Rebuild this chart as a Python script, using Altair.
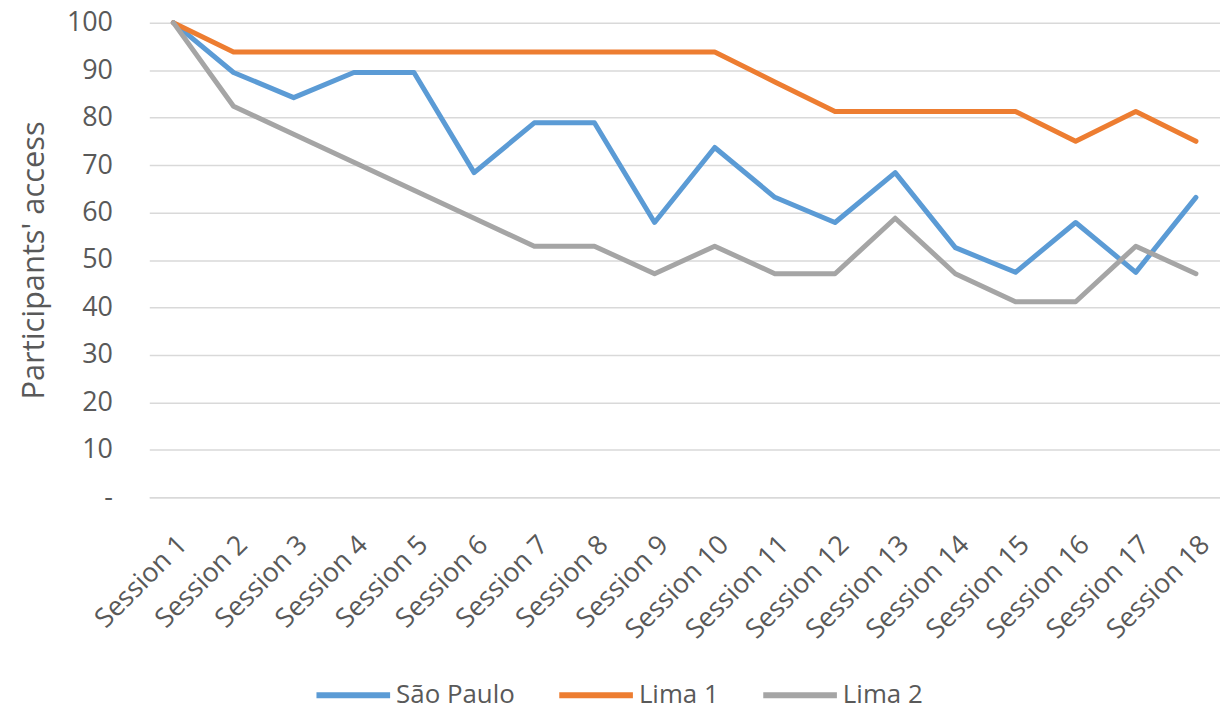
import altair as alt
import pandas as pd

sessions = [f"Session {i}" for i in range(1, 19)]
series_names = ["São Paulo", "Lima 1", "Lima 2"]
sao_paulo = [100, 89.5, 84.2, 89.5, 89.5, 68.4, 78.9, 78.9, 57.9, 73.7, 63.2, 57.9, 68.4, 52.6, 47.4, 57.9, 47.4, 63.2]
lima_1 = [100, 93.8, 93.8, 93.8, 93.8, 93.8, 93.8, 93.8, 93.8, 93.8, 87.5, 81.3, 81.3, 81.3, 81.3, 75.0, 81.3, 75.0]
lima_2 = [100, 82.4, 76.5, 70.6, 64.7, 58.8, 52.9, 52.9, 47.1, 52.9, 47.1, 47.1, 58.8, 47.1, 41.2, 41.2, 52.9, 47.1]
colors = ["#5B9BD5", "#ED7D31", "#A5A5A5"]
y_ticks = [0, 10, 20, 30, 40, 50, 60, 70, 80, 90, 100]

rows = []
for name, vals in zip(series_names, [sao_paulo, lima_1, lima_2]):
    for s, v in zip(sessions, vals):
        rows.append({"session": s, "value": v, "series": name})
df = pd.DataFrame(rows)

FONT = "Open Sans"
TXT = "#595959"
W, H = 1076, 477

chart = alt.Chart(df).mark_line(strokeWidth=5, strokeCap="round", strokeJoin="round").encode(
    x=alt.X("session:N", sort=sessions,
            scale=alt.Scale(type="point", padding=0.4),
            axis=alt.Axis(title=None, labelAngle=-45, labelAlign="right", labelBaseline="top",
                          labelPadding=34, ticks=False, tickSize=0, domainColor="#D9D9D9",
                          domainWidth=1.5, labelFont=FONT, labelFontSize=27, labelColor=TXT,
                          grid=False)),
    y=alt.Y("value:Q", scale=alt.Scale(domain=[0, 100], nice=False),
            axis=alt.Axis(title="Participants' access", values=y_ticks,
                          labelExpr="datum.value == 0 ? '-' : datum.label",
                          ticks=False, tickSize=0, domain=False, labelPadding=37,
                          labelFont=FONT, labelFontSize=27, labelColor=TXT,
                          gridColor="#D9D9D9", gridWidth=1.5,
                          titleFont=FONT, titleFontSize=31, titleFontWeight="normal",
                          titleColor=TXT, titleX=-115, titleY=H / 2, titleAngle=-90,
                          titleAlign="center", titleBaseline="middle")),
    color=alt.Color("series:N", sort=series_names,
                    scale=alt.Scale(domain=series_names, range=colors),
                    legend=alt.Legend(title=None, orient="none", direction="horizontal",
                                      legendX=165, legendY=636, symbolType="stroke",
                                      symbolSize=5476, symbolStrokeWidth=6,
                                      labelFont=FONT, labelFontSize=26, labelColor=TXT,
                                      columnPadding=32, labelOffset=3)),
).properties(
    width=W, height=H,
    autosize=alt.AutoSizeParams(type="none"),
    padding={"left": 142, "top": 13, "right": 0, "bottom": 207},
).configure_view(stroke=None)

chart.save("out.html", embed_options={"renderer": "svg", "actions": False})
